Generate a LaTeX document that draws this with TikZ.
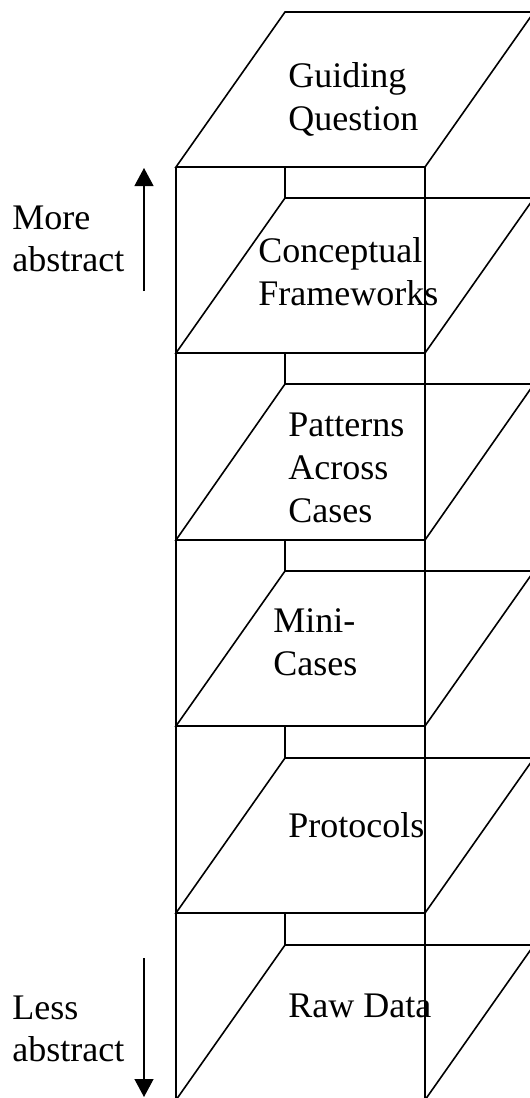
\documentclass[tikz,border=0pt]{standalone}
\usepackage{fontspec}
\setmainfont{Liberation Serif}
\usepackage{tikz}
\usetikzlibrary{
  arrows.meta,
  positioning,
}
\tikzstyle{edge} = [
  line width=0.8pt,
  line join=miter,
]
\tikzstyle{arrow} = [
  -{Triangle[length=9pt,width=9.5pt]},
  line width=0.6pt,
]
\tikzstyle{levtext} = [
  anchor=base west,
  inner sep=0pt,
  align=left,
  font=\fontsize{18}{21.5}\selectfont,
]
\tikzstyle{sidetext} = [
  anchor=base west,
  inner sep=0pt,
  align=left,
  font=\fontsize{18}{21}\selectfont,
]

\begin{document}
\begin{tikzpicture}[x=0.5pt,y=-0.5pt]

      \useasboundingbox (0,0) rectangle (530,1098);
      \clip (0,0) rectangle (530,1098);

      % lid and the two front posts
      \draw[edge] (285,12) -- (534,12) -- (425,167) -- (176,167) -- cycle;
      \draw[edge] (176,167) -- (176,1110);
      \draw[edge] (425,167) -- (425,1110);

      % the five shelves
      \draw[edge] (285,167) -- (285,198);
      \draw[edge] (176,353) -- (285,198) -- (534,198) -- (425,353) -- cycle;

      \draw[edge] (285,353) -- (285,384);
      \draw[edge] (176,540) -- (285,384) -- (534,384) -- (425,540) -- cycle;

      \draw[edge] (285,540) -- (285,571);
      \draw[edge] (176,726) -- (285,571) -- (534,571) -- (425,726) -- cycle;

      \draw[edge] (285,726) -- (285,758);
      \draw[edge] (176,913) -- (285,758) -- (534,758) -- (425,913) -- cycle;

      \draw[edge] (285,913) -- (285,945);
      \draw[edge] (176,1100) -- (285,945) -- (534,945) -- (425,1100) -- cycle;

      % base anchor sits on the last line
      \node[levtext] (guide)   at (288,130)  {Guiding\\Question};
      \node[levtext] (concept) at (258,305)  {Conceptual\\Frameworks};
      \node[levtext] (pattern) at (288,522)  {Patterns\\Across\\Cases};
      \node[levtext] (mini)    at (273,675)  {Mini-\\Cases};
      \node[levtext] (proto)   at (288,837)  {Protocols};
      \node[levtext] (raw)     at (288,1017) {Raw Data};

      \node[sidetext] (more) at (12,271)  {More\\abstract};
      \node[sidetext] (less) at (12,1061) {Less\\abstract};

      \coordinate (up1) at (144,291);
      \coordinate (up2) at (144,168);
      \coordinate (dn1) at (144,958);
      \coordinate (dn2) at (144,1097);

      \draw[arrow] (up1) -- (up2);
      \draw[arrow] (dn1) -- (dn2);

    \end{tikzpicture}
\end{document}
